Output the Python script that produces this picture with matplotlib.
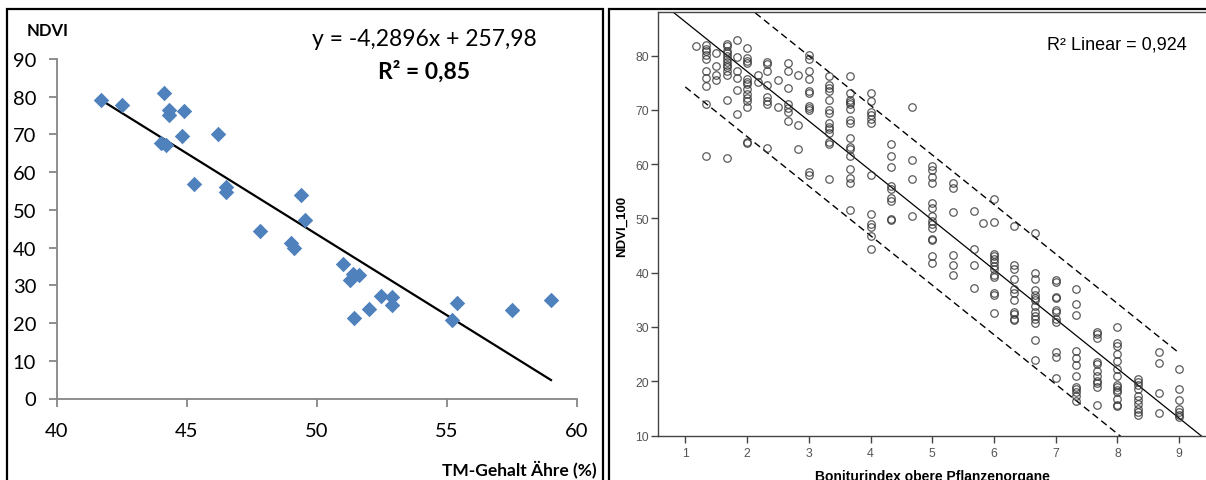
import numpy as np
import matplotlib
matplotlib.use("Agg")
from matplotlib import pyplot as plt
from matplotlib.patches import Rectangle

# left panel: TM-Gehalt vs NDVI (Excel style)
tm_gehalt = [41.70, 42.51, 44.10, 44.31, 44.30, 44.90, 44.80, 43.99, 44.18, 46.20,
             45.28, 46.49, 46.49, 47.79, 49.40, 49.52, 49.00, 49.11, 51.00, 51.37,
             51.26, 51.62, 51.41, 51.99, 52.47, 52.89, 52.89, 55.20, 55.39, 57.50, 59.00]
ndvi = [79.0, 77.7, 80.9, 76.6, 75.2, 76.3, 69.5, 67.8, 67.3, 70.1,
        56.8, 56.2, 54.7, 44.4, 54.0, 47.2, 41.3, 39.9, 35.7, 33.0,
        31.5, 32.8, 21.4, 23.8, 27.1, 26.9, 24.9, 20.7, 25.4, 23.4, 26.0]
fit_slope = -4.2896
fit_intercept = 257.98
left_xticks = [40, 45, 50, 55, 60]
left_yticks = [0, 10, 20, 30, 40, 50, 60, 70, 80, 90]

# right panel: Boniturindex vs NDVI_100 (SPSS style)
bonitur_levels = [1.17, 1.33, 1.5, 1.67, 1.83, 2.0, 2.17, 2.33, 2.5, 2.67, 2.83,
                  3.0, 3.33, 3.67, 4.0, 4.33, 4.67, 5.0, 5.33, 5.67, 5.83,
                  6.0, 6.33, 6.67, 7.0, 7.33, 7.67, 8.0, 8.33, 8.67, 9.0]
ndvi100_by_level = [
    [81.8],
    [82.0, 81.3, 80.8, 80.2, 79.4, 77.1, 75.9, 74.4, 71.1, 61.5],
    [80.5, 78.1, 76.5, 75.6],
    [82.1, 81.7, 80.9, 80.4, 80.0, 79.4, 78.9, 78.3, 77.9, 77.1, 76.5, 71.9, 61.1],
    [82.8, 79.8, 77.1, 75.8, 73.6, 69.3],
    [81.5, 79.6, 79.1, 78.6, 75.7, 75.2, 74.7, 73.9, 73.0, 72.2, 71.6, 70.6, 64.1, 63.9],
    [76.5, 75.2],
    [78.9, 78.5, 77.1, 74.6, 72.4, 71.7, 71.0, 63.0],
    [75.5, 70.6],
    [78.6, 77.2, 74.1, 71.0, 70.3, 69.6, 68.0],
    [76.5, 67.2, 62.8],
    [80.2, 79.3, 77.2, 75.7, 73.5, 73.2, 70.8, 70.4, 69.9, 58.6, 58.0],
    [76.2, 74.5, 74.1, 73.5, 71.9, 70.0, 69.5, 67.6, 66.9, 66.4, 65.8, 64.1, 63.8, 57.3],
    [76.3, 73.1, 71.9, 71.4, 71.1, 70.2, 68.1, 67.6, 64.9, 63.2, 62.8, 61.5, 59.1,
     57.5, 56.6, 51.5],
    [73.2, 71.6, 69.7, 69.0, 68.4, 67.6, 58.0, 50.8, 49.0, 48.4, 46.7, 44.4],
    [63.8, 61.5, 59.5, 56.0, 55.5, 53.8, 53.2, 49.9, 49.7],
    [70.6, 60.7, 57.3, 50.5],
    [59.7, 58.9, 57.6, 56.6, 52.9, 52.0, 50.5, 49.6, 49.0, 48.2, 46.2, 46.1, 43.0, 41.8],
    [56.6, 55.7, 51.1, 43.3, 41.5, 39.5],
    [51.3, 44.4, 41.5, 37.1],
    [49.1],
    [53.6, 49.3, 43.4, 43.0, 42.5, 41.9, 41.3, 40.7, 39.6, 39.2, 36.3, 35.9, 32.5],
    [48.6, 41.5, 40.7, 38.9, 37.0, 36.3, 34.9, 32.8, 32.3, 31.5, 31.2],
    [47.4, 40.0, 38.9, 36.9, 35.9, 35.4, 34.9, 33.9, 32.8, 32.1, 31.5, 30.8, 27.6, 24.0],
    [38.6, 38.3, 35.5, 35.3, 33.2, 32.7, 31.5, 30.9, 25.3, 24.5, 20.6],
    [37.0, 34.2, 32.2, 25.5, 24.3, 23.0, 21.0, 18.9, 18.6, 18.0, 17.2, 16.4],
    [29.1, 28.7, 28.0, 23.6, 23.2, 21.8, 21.0, 20.1, 19.6, 18.9, 15.6],
    [30.0, 27.1, 26.5, 25.1, 23.8, 22.2, 21.0, 19.3, 18.9, 18.4, 18.0, 16.7, 15.6, 15.4],
    [20.5, 19.9, 19.3, 18.6, 17.3, 16.6, 15.8, 14.8, 14.3, 13.7],
    [25.3, 23.3, 17.8, 14.1],
    [22.2, 18.6, 16.6, 14.8, 14.3, 13.8, 13.5],
]
spss_slope = -9.13
spss_intercept = 95.36
band_halfwidth = 12.0
right_xticks = [1, 2, 3, 4, 5, 6, 7, 8, 9]
right_yticks = [10, 20, 30, 40, 50, 60, 70, 80]

W, H = 1206, 481


def fx(px):
    return px / W


def fy(py):
    return 1 - py / H


fig = plt.figure(figsize=(W / 100, H / 100), dpi=100)
fig.patch.set_facecolor("white")

# frames round both panels
for x0, x1 in [(7, 603), (609, 1215)]:
    fig.patches.append(Rectangle((fx(x0), fy(H + 10)), fx(x1 - x0), fy(10) - fy(H + 10),
                                 transform=fig.transFigure, fill=False,
                                 edgecolor="black", linewidth=1.6, clip_on=False))

# ---- left panel ----
axl = fig.add_axes([fx(57), fy(399.5), fx(577) - fx(57), fy(60) - fy(399.5)])
axl.scatter(tm_gehalt, ndvi, marker="D", s=62, color="#4F81BD", zorder=3, linewidths=0)
xs = np.array([min(tm_gehalt), max(tm_gehalt)])
axl.plot(xs, fit_slope * xs + fit_intercept, color="black", lw=1.6, zorder=2)
axl.set_xlim(40, 60)
axl.set_ylim(0, 90)
axl.set_xticks(left_xticks)
axl.set_yticks(left_yticks)
for s in ["top", "right"]:
    axl.spines[s].set_visible(False)
for s in ["left", "bottom"]:
    axl.spines[s].set_color("#868686")
    axl.spines[s].set_linewidth(1.3)
axl.tick_params(colors="#868686", length=6, width=1.3, labelcolor="black",
                labelsize=14.5, labelfontfamily="Lato")
axl.tick_params(axis="x", pad=11)
axl.tick_params(axis="y", pad=9)
axl.patch.set_alpha(0)

fig.text(fx(27), fy(31), "NDVI", fontsize=12, fontweight="bold", family="Lato",
         ha="left", va="center")
fig.text(fx(597), fy(469), "TM-Gehalt Ähre (%)", fontsize=12.5, fontweight="bold",
         family="Lato", ha="right", va="center")
fig.text(fx(424), fy(40), "y = -4,2896x + 257,98", fontsize=16.5, family="Lato",
         ha="center", va="center")
fig.text(fx(424), fy(72), "R² = 0,85", fontsize=16.5, fontweight="bold", family="Lato",
         ha="center", va="center")

# ---- right panel ----
axr = fig.add_axes([fx(657.5), fy(436.5), fx(1207) - fx(657.5), fy(12.7) - fy(436.5)])
bx, by = [], []
for lvl, vals in zip(bonitur_levels, ndvi100_by_level):
    bx += [lvl] * len(vals)
    by += vals
axr.plot(bx, by, "o", ms=5.4, mfc="none", mec="#333333", mew=0.9, alpha=0.8, zorder=3)
xlim = (0.55, 9.45)
xl = np.array(xlim)
axr.plot(xl, spss_slope * xl + spss_intercept, color="black", lw=0.9, zorder=2)
xb = np.array([1.0, 9.0])
for sign in (1, -1):
    axr.plot(xb, spss_slope * xb + spss_intercept + sign * band_halfwidth,
             color="black", lw=1.0, ls=(0, (5, 3)), zorder=2)
axr.set_xlim(*xlim)
axr.set_ylim(10, 88.1)
axr.set_xticks(right_xticks)
axr.set_yticks(right_yticks)
for s in axr.spines.values():
    s.set_color("#444444")
    s.set_linewidth(1.0)
axr.tick_params(colors="#444444", length=5, width=1.0, labelcolor="#555555",
                labelsize=8.8, labelfontfamily="Liberation Sans")
axr.tick_params(axis="x", pad=3)
axr.tick_params(axis="y", pad=1)

fig.text(fx(1117), fy(45), "R² Linear = 0,924", fontsize=13, family="Liberation Sans",
         ha="center", va="center")
fig.text(fx(622), fy(226), "NDVI_100", fontsize=9.5, fontweight="bold",
         family="Liberation Sans", rotation=90, ha="center", va="center")
# the x label is cut by the lower image edge, as in the original screenshot
fig.text(fx(932), fy(470), "Boniturindex obere Pflanzenorgane", fontsize=10,
         fontweight="bold", family="Liberation Sans", ha="center", va="top")

fig.savefig("out.png", dpi=100)
